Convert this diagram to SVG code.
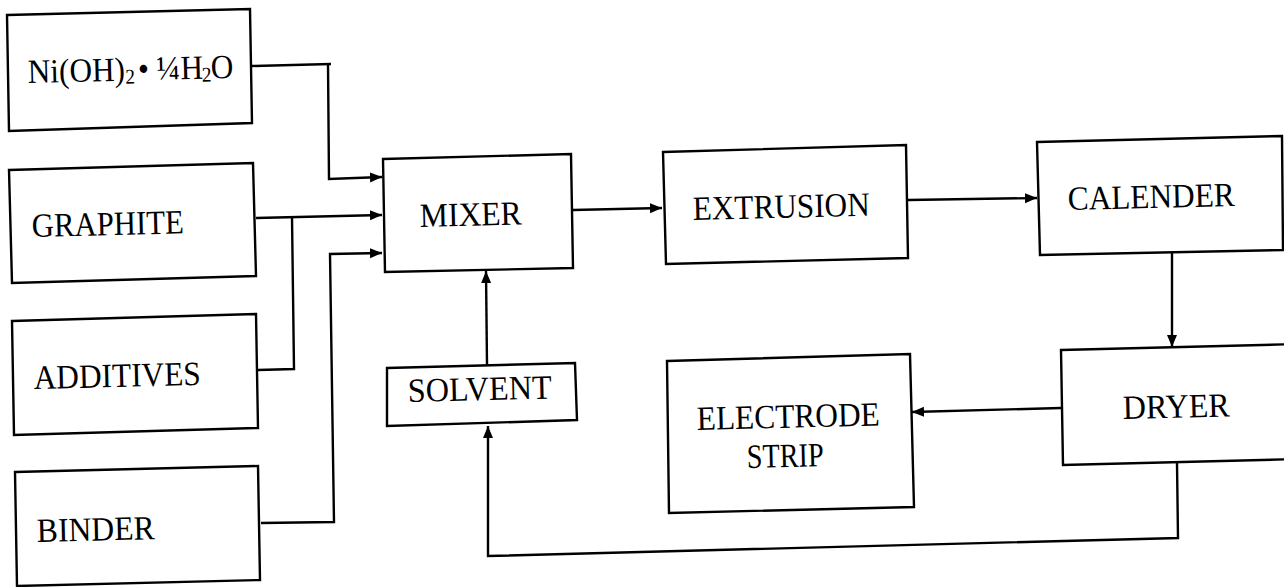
<svg xmlns="http://www.w3.org/2000/svg" width="1284" height="587" viewBox="0 0 1284 587">
<style>
.box{fill:#fff;stroke:#000;stroke-width:2.4;stroke-linejoin:miter}
.t{font-family:"Liberation Serif","Times New Roman",serif;font-size:34px;fill:#000}
.c{fill:none;stroke:#000;stroke-width:2.4}
</style>
<defs>
<marker id="ah" markerUnits="userSpaceOnUse" markerWidth="14" markerHeight="12" refX="12" refY="5" orient="auto">
<path d="M0,0 L12,5 L0,10 z" fill="#000"/>
</marker>
</defs>
<rect width="1284" height="587" fill="#fff"/>
<g id="connectors">
<polyline class="c" points="252,66 331,64"/>
<polyline class="c" points="328,64 329,179 382,177" marker-end="url(#ah)"/>
<polyline class="c" points="256,218 382,215" marker-end="url(#ah)"/>
<polyline class="c" points="258,370 294,369 292,217"/>
<polyline class="c" points="261,523 334,522 330,254 382,253" marker-end="url(#ah)"/>
<polyline class="c" points="573,210 662,208" marker-end="url(#ah)"/>
<polyline class="c" points="908,200 1037,198" marker-end="url(#ah)"/>
<polyline class="c" points="1172,252 1172,347" marker-end="url(#ah)"/>
<polyline class="c" points="1061,408 912,412" marker-end="url(#ah)"/>
<polyline class="c" points="487,365 486,271" marker-end="url(#ah)"/>
<polyline class="c" points="1177,463 1178,538 488,556 488,426" marker-end="url(#ah)"/>
</g>
<g id="ni">
<polygon class="box" points="7,15 250,9 252,123 9,131"/>
<text class="t" transform="translate(28 83) rotate(-1.4) scale(0.92 1)" x="0" y="0">Ni(OH)<tspan x="106" y="3" font-size="21">2</tspan><tspan x="120" y="0">•</tspan><tspan x="140" y="0">¼</tspan><tspan x="166" y="0">H</tspan><tspan x="189" y="3" font-size="21">2</tspan><tspan x="199" y="0">O</tspan></text>
</g>
<g id="graphite">
<polygon class="box" points="9,170 253,163 256,276 12,283"/>
<text class="t" x="32" y="237" textLength="152" lengthAdjust="spacingAndGlyphs" transform="rotate(-1.4 32 237)">GRAPHITE</text>
</g>
<g id="additives">
<polygon class="box" points="12,321 256,314 258,428 14,435"/>
<text class="t" x="34" y="389" textLength="167" lengthAdjust="spacingAndGlyphs" transform="rotate(-1.4 34 389)">ADDITIVES</text>
</g>
<g id="binder">
<polygon class="box" points="15,472 258,466 260,580 17,586"/>
<text class="t" x="37" y="542" textLength="118" lengthAdjust="spacingAndGlyphs" transform="rotate(-1.4 37 542)">BINDER</text>
</g>
<g id="mixer">
<polygon class="box" points="383,159 571,154 573,268 385,272"/>
<text class="t" x="420" y="227" textLength="102" lengthAdjust="spacingAndGlyphs" transform="rotate(-1.4 420 227)">MIXER</text>
</g>
<g id="solvent">
<polygon class="box" points="387,368 575,363 577,420 387,426"/>
<text class="t" x="408" y="402" textLength="144" lengthAdjust="spacingAndGlyphs" transform="rotate(-1.4 408 402)">SOLVENT</text>
</g>
<g id="extrusion">
<polygon class="box" points="663,152 906,145 908,258 666,264"/>
<text class="t" x="693" y="220" textLength="177" lengthAdjust="spacingAndGlyphs" transform="rotate(-1.4 693 220)">EXTRUSION</text>
</g>
<g id="calender">
<polygon class="box" points="1037,142 1282,136 1283,250 1040,255"/>
<text class="t" x="1068" y="210" textLength="167" lengthAdjust="spacingAndGlyphs" transform="rotate(-1.4 1068 210)">CALENDER</text>
</g>
<g id="dryer">
<polygon class="box" points="1061,350 1300,344 1300,459 1063,465"/>
<text class="t" x="1123" y="419" textLength="107" lengthAdjust="spacingAndGlyphs" transform="rotate(-1.4 1123 419)">DRYER</text>
</g>
<g id="electrode">
<polygon class="box" points="667,361 910,354 914,507 669,513"/>
<text class="t" x="697" y="430" textLength="183" lengthAdjust="spacingAndGlyphs" transform="rotate(-1.4 697 430)">ELECTRODE</text>
<text class="t" x="747" y="468" textLength="77" lengthAdjust="spacingAndGlyphs" transform="rotate(-1.4 747 468)">STRIP</text>
</g>
</svg>
